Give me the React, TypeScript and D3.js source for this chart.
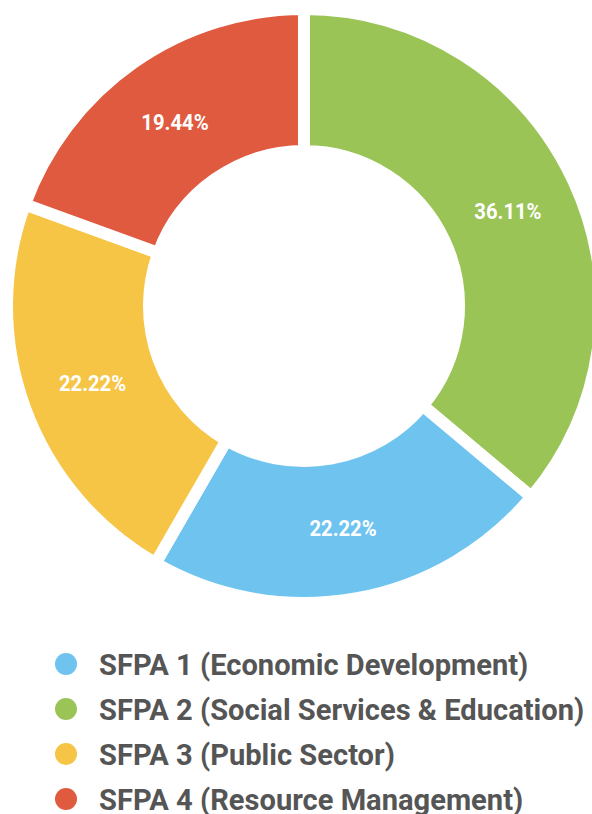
import React from "react";
import * as d3 from "d3";

const categories = [
  "SFPA 1 (Economic Development)",
  "SFPA 2 (Social Services & Education)",
  "SFPA 3 (Public Sector)",
  "SFPA 4 (Resource Management)",
];
const values = [22.22, 36.11, 22.22, 19.44];
const colors = ["#6EC4EF", "#9BC456", "#F6C546", "#E05A40"];
// drawing order around the ring (clockwise from top)
const ringOrder = [1, 0, 2, 3];

const W = 592;
const H = 814;
const CX = 304;
const CY = 306;
const R_OUT = 297;
const R_IN = 155;
const GAP = 12;
const LABEL_R = 225;

export default function App() {
  const ordered = ringOrder.map((i) => ({ i, value: values[i] }));
  const pie = d3
    .pie<{ i: number; value: number }>()
    .value((d) => d.value)
    .sort(null)
    .startAngle(0)
    .endAngle(2 * Math.PI);
  const arcs = pie(ordered);
  const arc = d3
    .arc<d3.PieArcDatum<{ i: number; value: number }>>()
    .innerRadius(R_IN)
    .outerRadius(R_OUT);
  const labelArc = d3
    .arc<d3.PieArcDatum<{ i: number; value: number }>>()
    .innerRadius(LABEL_R)
    .outerRadius(LABEL_R);

  const legendY = d3
    .scaleLinear()
    .domain([0, categories.length - 1])
    .range([664, 799]);

  const font = "Roboto, 'Noto Sans', sans-serif";

  return (
    <svg
      width={W}
      height={H}
      style={{ position: "absolute", left: 0, top: 0, background: "#fff" }}
    >
      <g transform={`translate(${CX},${CY})`}>
        {arcs.map((a) => (
          <path
            key={a.data.i}
            d={arc(a) || ""}
            fill={colors[a.data.i]}
            stroke="#fff"
            strokeWidth={GAP}
            strokeLinejoin="miter"
          />
        ))}
        {arcs.map((a) => {
          const [x, y] = labelArc.centroid(a);
          return (
            <text
              key={"l" + a.data.i}
              transform={`translate(${x},${y + 8}) scale(0.92,1)`}
              textAnchor="middle"
              fill="#fff"
              fontFamily={font}
              fontWeight={700}
              fontSize={22}
            >
              {values[a.data.i].toFixed(2) + "%"}
            </text>
          );
        })}
      </g>
      <g>
        {categories.map((c, i) => (
          <g key={c} transform={`translate(0,${legendY(i)})`}>
            <circle cx={66} cy={0} r={11} fill={colors[i]} />
            <text
              transform={`translate(99,10.5) scale(0.97,1)`}
              fill="#555555"
              fontFamily={font}
              fontWeight={700}
              fontSize={30}
            >
              {c}
            </text>
          </g>
        ))}
      </g>
    </svg>
  );
}
